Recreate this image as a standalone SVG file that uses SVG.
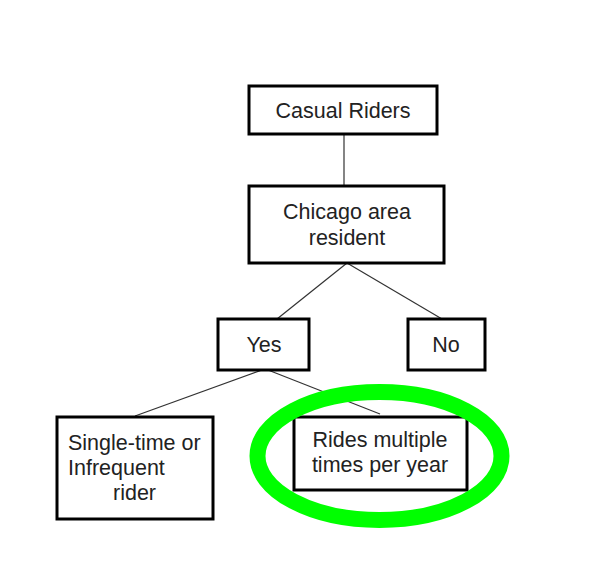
<svg xmlns="http://www.w3.org/2000/svg" width="614" height="584" viewBox="0 0 614 584">
<style>
.box{fill:#fff;stroke:#000;stroke-width:3}
.t{font-family:"Liberation Sans",Arial,sans-serif;font-size:21.5px;fill:#222}
.c{text-anchor:middle}
.ln{stroke:#333;stroke-width:1.2;fill:none}
</style>
<rect width="614" height="584" fill="#fff"/>
<g id="connectors">
<line class="ln" x1="344" y1="135" x2="344" y2="186"/>
<line class="ln" x1="347" y1="263" x2="277" y2="319"/>
<line class="ln" x1="347" y1="263" x2="442" y2="319"/>
<line class="ln" x1="262" y1="370" x2="135" y2="416"/>
<line class="ln" x1="268" y1="370" x2="380" y2="414"/>
</g>
<g id="casual"><rect class="box" x="249" y="86" width="188" height="48"/><text class="t c" x="343" y="118">Casual Riders</text></g>
<g id="chicago"><rect class="box" x="249" y="186" width="195" height="77"/><text class="t c" x="347" y="219">Chicago area</text><text class="t c" x="347" y="245">resident</text></g>
<g id="yes"><rect class="box" x="218" y="319" width="91" height="51"/><text class="t c" x="264" y="352">Yes</text></g>
<g id="no"><rect class="box" x="408" y="319" width="77" height="51"/><text class="t c" x="446" y="352">No</text></g>
<g id="single"><rect class="box" x="57" y="417" width="156" height="102"/><text class="t" x="68" y="450">Single-time or</text><text class="t" x="68" y="475">Infrequent</text><text class="t" x="113" y="500">rider</text></g>
<g id="rides"><rect class="box" x="294" y="417" width="173" height="73"/><text class="t c" x="380" y="447">Rides multiple</text><text class="t c" x="380" y="472">times per year</text></g>
<g id="highlight"><ellipse cx="379.5" cy="456" rx="122" ry="64" fill="none" stroke="#00ff00" stroke-width="16"/></g>
</svg>
